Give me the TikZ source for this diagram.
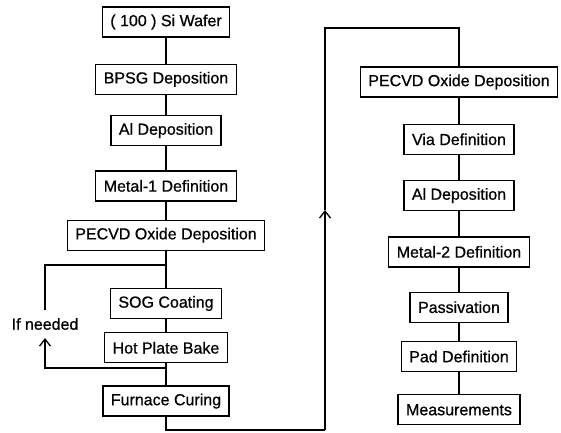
\documentclass[tikz,border=0pt]{standalone}
\usepackage{fontspec}
\setmainfont{Liberation Sans}[RawFeature={embolden=0.7}]
\usetikzlibrary{arrows.meta, positioning}

\begin{document}
\begin{tikzpicture}[x=1pt, y=-1pt, font=\fontsize{16}{19}\selectfont,
    stepbox/.style={draw, line width=1.3pt, minimum height=30pt, inner xsep=8pt},
    flow/.style={line width=1.2pt},
    uparrow/.style={flow, -{Straight Barb[length=7pt, width=11pt, line width=1.3pt]}}]
    \useasboundingbox (0,0) rectangle (561,432);

    % left column
    \node[stepbox] (wafer) at (166,22) {( 100 ) Si Wafer};
    \node[stepbox, below=26pt of wafer] (bpsg) {BPSG Deposition};
    \node[stepbox, below=20pt of bpsg] (alone) {Al Deposition};
    \node[stepbox, below=24pt of alone] (metalone) {Metal-1 Definition};
    \node[stepbox, below=18pt of metalone] (oxideone) {PECVD Oxide Deposition};
    \node[stepbox, below=37pt of oxideone] (sog) {SOG Coating};
    \node[stepbox, below=13pt of sog] (bake) {Hot Plate Bake};
    \node[stepbox, below=22pt of bake] (furnace) {Furnace Curing};

    % right column
    \node[stepbox] (oxidetwo) at (459,82) {PECVD Oxide Deposition};
    \node[stepbox, below=26pt of oxidetwo] (via) {Via Definition};
    \node[stepbox, below=25pt of via] (altwo) {Al Deposition};
    \node[stepbox, below=25pt of altwo] (metaltwo) {Metal-2 Definition};
    \node[stepbox, below=24pt of metaltwo] (passiv) {Passivation};
    \node[stepbox, below=18pt of passiv] (pad) {Pad Definition};
    \node[stepbox, below=22pt of pad] (measure) {Measurements};

    \foreach \a/\b in {wafer/bpsg, bpsg/alone, alone/metalone, metalone/oxideone,
        oxideone/sog, sog/bake, bake/furnace, oxidetwo/via, via/altwo,
        altwo/metaltwo, metaltwo/passiv, passiv/pad, pad/measure}
        \draw[flow] (\a) -- (\b);

    % optional repeat loop
    \coordinate (looptop) at (166,265);
    \coordinate (loopbot) at (166,368);
    \node[inner ysep=8pt] (needed) at (45,324) {If needed};
    \draw[flow] (looptop) -| (needed);
    \draw[uparrow] (loopbot) -| (needed);

    % link to second column
    \coordinate (lowturn) at (325,430);
    \coordinate (midup) at (325,210);
    \coordinate (highturn) at (325,28);
    \draw[flow] (furnace.south) |- (lowturn);
    \draw[uparrow] (lowturn) -- (midup);
    \draw[flow] (midup) -- (highturn) -| (oxidetwo.north);
\end{tikzpicture}
\end{document}
